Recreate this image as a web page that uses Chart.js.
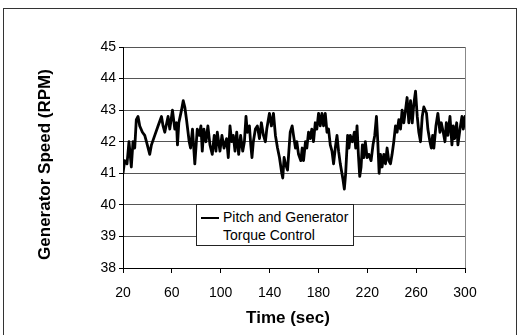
<!DOCTYPE html>
<html>
<head>
<meta charset="utf-8">
<script src="https://cdn.jsdelivr.net/npm/chart.js@4/dist/chart.umd.min.js"></script>
<style>
  html, body { margin: 0; padding: 0; background: #fff; }
  #wrap { position: relative; width: 521px; height: 335px; overflow: hidden; }
  #frame { position: absolute; left: 3px; top: 8px; width: 514px; height: 340px; border: 1px solid #333; box-sizing: border-box; pointer-events: none; }
  #c { position: absolute; left: 0; top: 0; }
  #legend { position: absolute; left: 196px; top: 204px; width: 158px; height: 42px; box-sizing: border-box;
            border: 1px solid #222; background: #fff; font-family: "Liberation Sans", Arial, sans-serif; font-size: 14px;
            line-height: 18px; color: #000; }
  #legend .swatch { position: absolute; left: 4px; top: 12px; width: 18px; height: 2px; background: #000; }
  #legend .txt { position: absolute; left: 26px; top: 3px; white-space: nowrap; }
</style>
</head>
<body>
<div id="wrap">
  <canvas id="c" width="521" height="335"></canvas>
  <div id="frame"></div>
  <div id="legend"><span class="swatch"></span><div class="txt" id="legendText"></div></div>
</div>
<script>
// ---- data ----
const seriesName = ["Pitch and Generator", "Torque Control"];
const xTitle = "Time (sec)";
const yTitle = "Generator Speed (RPM)";
const xTicks = [20, 60, 100, 140, 180, 220, 260, 300];
const yTicks = [38, 39, 40, 41, 42, 43, 44, 45];
const timeSec = [
  20.0, 21.4, 23.3, 24.9, 26.8, 28.2, 29.6, 30.9, 32.3, 33.7, 35.9, 37.8, 39.2, 41.9, 43.3, 46.0, 48.7, 51.5, 52.8, 54.2,
  56.9, 58.3, 60.5, 62.4, 63.8, 64.6, 65.7, 67.9, 69.3, 70.6, 72.0, 74.2, 75.3, 76.9, 78.8, 80.8, 82.4, 83.8, 84.9, 86.2,
  87.9, 89.5, 91.2, 93.1, 94.7, 96.1, 97.2, 99.4, 101.0, 102.7, 104.8, 106.2, 107.6, 109.0, 110.3, 111.7, 113.1, 114.7, 116.3, 118.0,
  119.4, 120.7, 121.8, 123.5, 124.6, 125.6, 126.7, 128.4, 130.0, 131.7, 133.3, 135.0, 136.6, 137.7, 139.9, 141.5, 143.2, 144.8, 146.5, 148.1,
  150.0, 150.8, 151.9, 153.0, 154.7, 155.8, 156.9, 158.5, 159.6, 161.2, 162.3, 163.7, 165.6, 166.7, 167.8, 169.4, 170.5, 171.9, 173.3, 174.6,
  176.0, 177.4, 178.7, 180.1, 181.5, 182.9, 184.2, 185.6, 187.0, 188.3, 189.7, 191.1, 192.4, 193.8, 195.2, 196.5, 197.9, 200.1, 201.2, 202.3,
  203.9, 205.0, 206.1, 207.8, 209.4, 210.5, 211.6, 212.7, 213.8, 214.9, 216.0, 217.1, 218.4, 219.8, 221.2, 223.1, 224.7, 226.1, 227.5, 228.6,
  229.7, 230.8, 232.1, 233.5, 234.9, 236.2, 237.6, 239.0, 240.3, 241.7, 243.1, 244.4, 245.8, 247.2, 248.5, 249.9, 251.3, 252.6, 254.0, 255.4,
  256.8, 258.1, 259.5, 260.9, 262.2, 263.6, 265.0, 266.3, 268.5, 269.6, 271.3, 272.4, 273.5, 274.5, 276.2, 277.8, 279.5, 280.6, 282.2, 283.6,
  284.7, 286.0, 287.7, 289.3, 290.4, 291.5, 293.2, 294.2, 295.9, 297.5, 298.6, 300.0
];
const speedRpm = [
  41.0, 41.4, 41.3, 42.0, 41.2, 42.0, 41.8, 42.7, 42.8, 42.5, 42.3, 42.2, 42.0, 41.6, 41.9, 42.2, 42.5, 42.8, 42.5, 42.3,
  42.8, 42.4, 43.0, 42.4, 42.6, 41.9, 42.6, 43.0, 43.3, 43.1, 42.7, 42.0, 41.8, 42.4, 41.3, 42.4, 42.2, 42.5, 41.7, 42.4,
  42.0, 42.5, 41.9, 41.6, 42.2, 41.7, 42.3, 41.7, 42.2, 41.8, 42.1, 41.5, 42.5, 42.0, 42.2, 41.7, 42.3, 41.6, 42.2, 41.7,
  42.0, 42.8, 42.3, 42.5, 41.9, 41.5, 42.0, 42.4, 42.5, 42.1, 42.6, 42.2, 42.0, 42.4, 42.9, 42.5, 42.9, 42.2, 41.8, 41.5,
  41.0, 40.85, 41.5, 41.3, 41.1, 41.7, 42.3, 42.5, 42.2, 41.8, 42.0, 41.6, 41.4, 41.8, 41.4, 42.0, 41.8, 42.3, 42.1, 42.4,
  42.0, 42.6, 42.4, 42.9, 42.5, 42.9, 42.5, 42.9, 42.3, 42.4, 41.9, 41.7, 41.3, 41.8, 42.2, 41.7, 41.3, 40.8, 40.5, 41.0,
  42.2, 41.8, 42.2, 42.0, 42.3, 41.8, 42.5, 41.6, 40.9, 41.2, 41.9, 41.5, 42.0, 41.5, 41.6, 41.4, 41.9, 42.2, 42.8, 42.0,
  41.0, 41.6, 41.2, 41.6, 41.3, 41.8, 41.4, 41.3, 41.6, 42.0, 42.5, 42.3, 42.7, 42.4, 43.0, 42.6, 43.0, 43.4, 42.6, 43.3,
  42.6, 43.2, 43.6, 42.8, 42.3, 42.0, 42.8, 43.1, 42.9, 42.4, 42.0, 41.8, 42.2, 41.8, 42.5, 42.9, 42.3, 42.6, 42.3, 42.0,
  42.6, 42.2, 42.8, 41.9, 42.5, 42.1, 42.6, 41.9, 42.4, 42.8, 42.4, 42.8
];

document.getElementById('legendText').innerHTML = seriesName.join('<br>');

const FONT = '"Liberation Sans", Arial, sans-serif';

const extras = {
  id: 'extras',
  afterDatasetsDraw(chart) {
    const {ctx, chartArea: a} = chart;
    ctx.save();
    ctx.strokeStyle = '#888';
    ctx.lineWidth = 1;
    ctx.beginPath();
    ctx.moveTo(Math.round(a.right) + 0.5, a.top);
    ctx.lineTo(Math.round(a.right) + 0.5, a.bottom);
    ctx.stroke();
    ctx.restore();
  },
  afterDraw(chart) {
    const {ctx, chartArea: a} = chart;
    ctx.save();
    ctx.fillStyle = '#000';
    ctx.font = 'bold 17px ' + FONT;
    ctx.textAlign = 'center';
    ctx.textBaseline = 'middle';
    ctx.fillText(xTitle, (a.left + a.right) / 2 - 6, 318);
    ctx.translate(45, (a.top + a.bottom) / 2 + 7);
    ctx.rotate(-Math.PI / 2);
    ctx.fillText(yTitle, 0, 0);
    ctx.restore();
  }
};

new Chart(document.getElementById('c'), {
  type: 'line',
  data: {
    datasets: [{
      label: seriesName.join(' '),
      data: timeSec.map((t, i) => ({x: t, y: speedRpm[i]})),
      borderColor: '#000',
      borderWidth: 2.8,
      borderJoinStyle: 'round',
      borderCapStyle: 'round',
      pointRadius: 0,
      tension: 0,
      fill: false
    }]
  },
  options: {
    responsive: false,
    devicePixelRatio: 1,
    animation: false,
    events: [],
    layout: { padding: { left: 0, top: 47, right: 56, bottom: 0 } },
    plugins: { legend: { display: false }, tooltip: { enabled: false } },
    scales: {
      x: {
        type: 'linear', min: 20, max: 300,
        afterBuildTicks: s => { s.ticks = xTicks.map(v => ({value: v})); },
        afterFit: s => { s.height = 67; },
        ticks: { color: '#000', font: { family: FONT, size: 14 }, padding: 12, maxRotation: 0 },
        grid: { drawOnChartArea: false, drawTicks: true, tickLength: 5, tickColor: '#000' },
        border: { color: '#000', width: 1 },
        title: { display: false }
      },
      y: {
        min: 38, max: 45,
        afterBuildTicks: s => { s.ticks = yTicks.map(v => ({value: v})); },
        afterFit: s => { s.width = 123; },
        ticks: { color: '#000', font: { family: FONT, size: 14 }, padding: 3 },
        grid: { color: '#555', lineWidth: 1, drawTicks: true, tickLength: 4, tickColor: '#000' },
        border: { color: '#000', width: 1 },
        title: { display: false }
      }
    }
  },
  plugins: [extras]
});
</script>
</body>
</html>
